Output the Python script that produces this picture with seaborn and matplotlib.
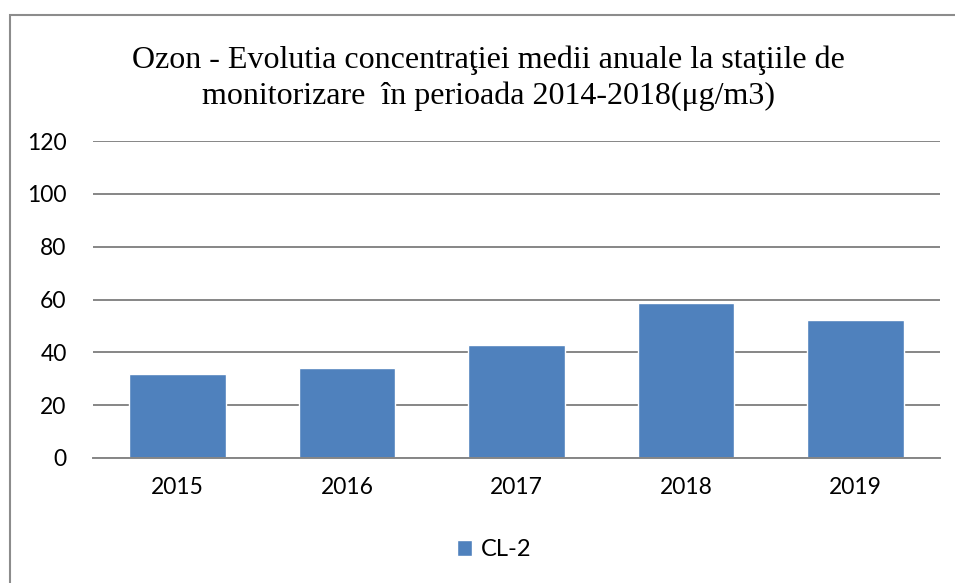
import pandas as pd
import matplotlib
matplotlib.use('Agg')
import matplotlib.pyplot as plt
from matplotlib.patches import Rectangle, Patch
import seaborn as sns

# date
ani = ['2015', '2016', '2017', '2018', '2019']
valori_cl2 = [31.8, 34.2, 42.6, 58.6, 52.1]
serie = 'CL-2'
y_ticks = [0, 20, 40, 60, 80, 100, 120]

TITLU = 'Ozon - Evolutia concentraţiei medii anuale la staţiile de\nmonitorizare  în perioada 2014-2018(μg/m3)'
CULOARE = '#4F81BD'
GRILA = '#868686'

sns.set_style('white')
plt.rcParams['font.family'] = ['Lato', 'DejaVu Sans']
plt.rcParams['text.color'] = 'black'

df = pd.DataFrame({'an': ani, 'valoare': valori_cl2, 'serie': serie})

fig = plt.figure(figsize=(9.55, 5.83), dpi=100)
ax = fig.add_axes([93 / 955, 1 - 458 / 583, (940 - 93) / 955, (458 - 141) / 583])

sns.barplot(data=df, x='an', y='valoare', hue='serie', palette={serie: CULOARE},
            width=0.57, ax=ax, legend=False, saturation=1)

ax.set_ylim(0, 120)
ax.set_xlim(-0.5, len(ani) - 0.5)
ax.set_yticks(y_ticks)
ax.yaxis.grid(True, color=GRILA, linewidth=1.4)
ax.set_axisbelow(True)
for s in ['top', 'right', 'left']:
    ax.spines[s].set_visible(False)
ax.spines['bottom'].set_color(GRILA)
ax.spines['bottom'].set_linewidth(1.4)
ax.tick_params(axis='both', length=0, labelsize=16.5, colors='black')
ax.tick_params(axis='y', pad=19)
ax.tick_params(axis='x', pad=14)
ax.set_xlabel('')
ax.set_ylabel('')

fig.text(488 / 955, 1 - 78 / 583, TITLU, ha='center', va='center', fontsize=23,
         color='black', family=['Liberation Serif', 'DejaVu Serif'], linespacing=1.28)

fig.legend(handles=[Patch(facecolor=CULOARE, label=serie)], loc='center',
           bbox_to_anchor=(494 / 955, 1 - 550 / 583), frameon=False, fontsize=17,
           labelcolor='black', handlelength=0.65, handleheight=0.65, handletextpad=0.35)

# chenarul graficului
fig.patches.append(Rectangle((10 / 955, -0.05), 1.0, 1 - 15 / 583 + 0.05,
                             transform=fig.transFigure, fill=False,
                             edgecolor='#8C8C8C', linewidth=1.5))

fig.savefig('out.png', dpi=100)
